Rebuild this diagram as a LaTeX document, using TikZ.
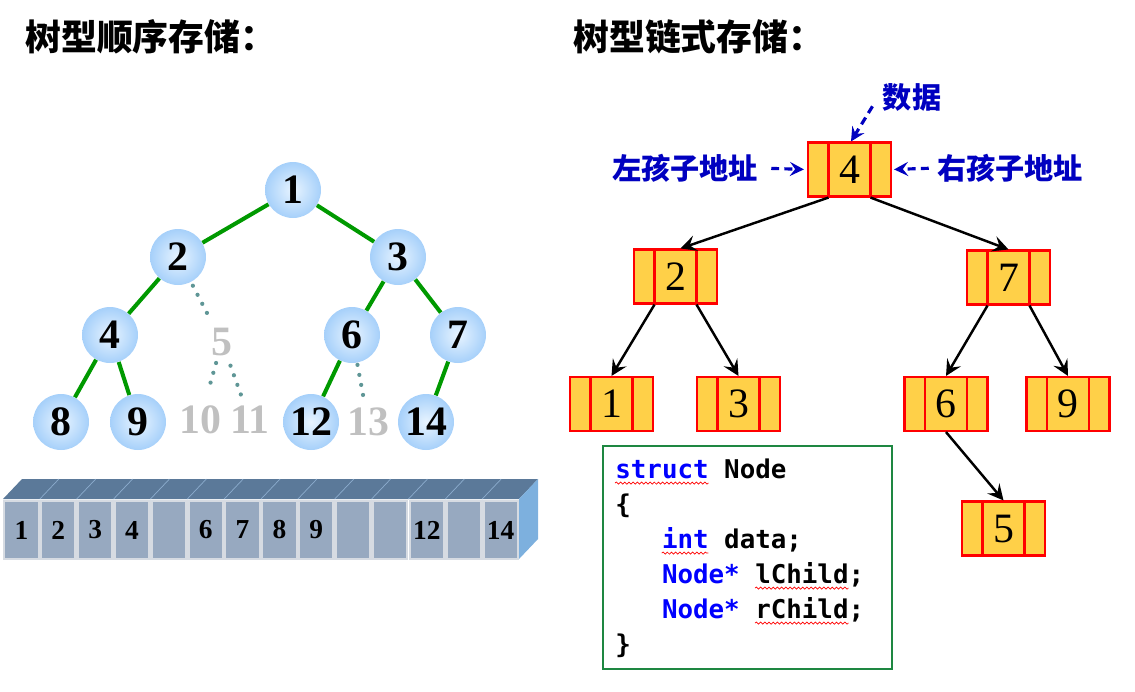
\documentclass[tikz,border=0pt]{standalone}
\usepackage{fontspec}
\setmainfont{Liberation Serif}
\newfontfamily\cjkfont{Noto Sans CJK SC}
\newfontfamily\codefont{DejaVu Sans Mono}
\usetikzlibrary{arrows.meta, positioning, calc, decorations.pathmorphing}

\definecolor{treegreen}{RGB}{0,153,0}
\definecolor{dotteal}{RGB}{95,150,150}
\definecolor{ballin}{RGB}{232,244,255}
\definecolor{ballout}{RGB}{166,208,250}
\definecolor{ghostgray}{RGB}{192,192,192}
\definecolor{labblue}{RGB}{0,0,192}
\definecolor{nodegold}{RGB}{255,208,72}
\definecolor{cellfill}{RGB}{151,169,192}
\definecolor{celledge}{RGB}{214,219,226}
\definecolor{arrtop}{RGB}{91,121,153}
\definecolor{arrsep}{RGB}{140,172,205}
\definecolor{arrside}{RGB}{125,176,222}
\definecolor{codegreen}{RGB}{30,135,65}
\definecolor{kwblue}{RGB}{0,0,255}

\begin{document}
\begin{tikzpicture}[x=0.02cm, y=-0.02cm,
  %% Titles and labels
  title/.style ={font=\cjkfont\bfseries\fontsize{20.4pt}{22pt}\selectfont, anchor=west, inner sep=0pt},
  blab/.style  ={font=\cjkfont\bfseries\fontsize{16.6pt}{18pt}\selectfont, text=labblue, inner sep=0pt},
  %% Sequential tree
  ball/.style  ={circle, minimum size=1.12cm, inner sep=0pt, inner color=ballin, outer color=ballout,
                 font=\bfseries\fontsize{23.8pt}{24pt}\selectfont},
  ghost/.style ={inner sep=0pt, text=ghostgray, font=\bfseries\fontsize{23.8pt}{24pt}\selectfont},
  gedge/.style ={treegreen, line width=2.3pt},
  dedge/.style ={dotteal, line width=2.4pt, line cap=round, dash pattern=on 0pt off 5.8pt},
  %% Array strip
  cell/.style  ={draw=celledge, line width=1.3pt, fill=cellfill, minimum width=0.69cm,
                 minimum height=1.154cm, inner sep=0pt, font=\bfseries\fontsize{15.6pt}{16pt}\selectfont},
  %% Linked tree
  lnode/.style ={draw=red, line width=1.2pt, fill=nodegold, minimum width=1.66cm, minimum height=1.08cm,
                 inner sep=0pt, font=\fontsize{23.8pt}{24pt}\selectfont,
                 path picture={\draw[red, line width=1.2pt]
                   ([xshift=-0.42cm]path picture bounding box.north) -- ([xshift=-0.42cm]path picture bounding box.south)
                   ([xshift=0.42cm]path picture bounding box.north) -- ([xshift=0.42cm]path picture bounding box.south);}},
  arr/.style   ={-{Stealth[length=9pt, width=9pt, inset=3.5pt]}, line width=1.4pt},
  barr/.style  ={-{Stealth[length=8pt, width=8pt, inset=3pt]}, labblue, line width=1.8pt, dash pattern=on 4.5pt off 3pt},
  %% Code box
  codebox/.style ={draw=codegreen, line width=0.8pt, minimum width=5.78cm, minimum height=4.46cm},
  codeline/.style={anchor=base west, inner sep=0pt, font=\codefont\bfseries\fontsize{14.7pt}{19.8pt}\selectfont},
  spell/.style   ={red, line width=0.4pt, decorate, decoration={snake, amplitude=0.6pt, segment length=2.4pt}}
]
\useasboundingbox (0,0) rectangle (1135,691);

%% ── TITLES ───────────────────────────────────────────────────
\node[title] (ttlSeq)  at (25, 37)  {树型顺序存储：};
\node[title] (ttlLink) at (573, 37) {树型链式存储：};

%% ── SEQUENTIAL TREE ──────────────────────────────────────────
\node[ball] (c1)  at (293, 190) {1};
\node[ball] (c2)  at (178, 257) {2};
\node[ball] (c3)  at (398, 257) {3};
\node[ball] (c4)  at (110, 335) {4};
\node[ball] (c6)  at (352, 335) {6};
\node[ball] (c7)  at (458, 335) {7};
\node[ball] (c8)  at (61, 422)  {8};
\node[ball] (c9)  at (138, 422) {9};
\node[ball] (c12) at (311, 422) {12};
\node[ball] (c14) at (426, 422) {14};

\node[ghost] (g5)  at (222, 342) {5};
\node[ghost] (g10) at (200, 420) {10};
\node[ghost] (g11) at (250, 420) {11};
\node[ghost] (g13) at (368, 422) {13};

\draw[gedge] (c1) -- (c2);
\draw[gedge] (c1) -- (c3);
\draw[gedge] (c2) -- (c4);
\draw[gedge] (c3) -- (c6);
\draw[gedge] (c3) -- (c7);
\draw[gedge] (c4) -- (c8);
\draw[gedge] (c4) -- (c9);
\draw[gedge] (c6) -- (c12);
\draw[gedge] (c7) -- (c14);

%% missing children, dotted
\draw[dedge, shorten <=0.08cm, shorten >=0.19cm] (c2) -- (g5);
\draw[dedge, shorten <=0.14cm, shorten >=0.29cm] (g5) -- (g10);
\draw[dedge, shorten <=0.20cm, shorten >=0.13cm] (g5) -- (g11);
\draw[dedge, shorten <=0.04cm, shorten >=0.10cm] (c6) -- (g13);

%% ── ARRAY STRIP ──────────────────────────────────────────────
\coordinate (arrNW) at (3, 499);
\coordinate (arrSE) at (519, 559);
\fill[arrtop]  (arrNW) -- ++(19,-20) -- ($(arrSE |- arrNW)+(19,-20)$) -- (arrSE |- arrNW) -- cycle;
\fill[arrside] (arrSE |- arrNW) -- ++(19,-20) -- ++(0,60) -- (arrSE) -- cycle;
\foreach \i in {1,...,13}
  \draw[arrsep, line width=0.4pt] ($(arrNW)+(36.86*\i,0)$) -- ++(19,-20);

\foreach \v [count=\i from 0] in {1,2,3,4,{},6,7,8,9,{},{},12,{},14}
  \node[cell] (a\i) at ({21.43+36.86*\i}, 530) {\v};

%% ── LINKED TREE ──────────────────────────────────────────────
\node[lnode] (r4) at (849.5, 169.5) {4};
\node[lnode] (r2) at (675.5, 276.5) {2};
\node[lnode] (r7) at (1008.5, 277.5) {7};
\node[lnode] (r1) at (611.5, 404) {1};
\node[lnode] (r3) at (738.5, 404) {3};
\node[lnode] (r6) at (946, 404) {6};
\node[lnode] (r9) at (1068, 404) {9};
\node[lnode] (r5) at (1003.5, 528.5) {5};

\draw[arr] ([xshift=-0.42cm]r4.south) -- ([xshift=0.1cm]r2.north);
\draw[arr] ([xshift=0.42cm]r4.south)  -- (r7.north);
\draw[arr] ([xshift=-0.42cm]r2.south) -- (r1.north);
\draw[arr] ([xshift=0.42cm]r2.south)  -- (r3.north);
\draw[arr] ([xshift=-0.42cm]r7.south) -- (r6.north);
\draw[arr] ([xshift=0.42cm]r7.south)  -- (r9.north);
\draw[arr] (r6.south) -- (r5.north);

%% field labels
\node[blab] (lblData) at (912, 97)  {数据};
\node[blab] (lblL)    at (685, 168) {左孩子地址};
\node[blab] (lblR)    at (1010, 168) {右孩子地址};

\draw[barr] ([xshift=-0.2cm, yshift=0.1cm]lblData.south west) -- ([xshift=0.03cm]r4.north);
\draw[barr, shorten <=0.26cm, shorten >=0.06cm] (lblL.east) -- (r4.west);
\draw[barr, shorten <=0.16cm, shorten >=0.04cm] (lblR.west) -- (r4.east);

%% ── CODE BOX ─────────────────────────────────────────────────
\node[codebox] (code) at (747.5, 557.5) {};
\node[codeline] (src1) at (615, 478.5) {\textcolor{kwblue}{struct} Node};
\node[codeline] (src2) at (615, 513.5) {\{};
\node[codeline] (src3) at (615, 548.5) {\phantom{xxx}\textcolor{kwblue}{int} data;};
\node[codeline] (src4) at (615, 583.5) {\phantom{xxx}\textcolor{kwblue}{Node*} lChild;};
\node[codeline] (src5) at (615, 618.5) {\phantom{xxx}\textcolor{kwblue}{Node*} rChild;};
\node[codeline] (src6) at (615, 653.5) {\}};

%% spell-check waves
\draw[spell] ([yshift=-2.6pt]src1.base west) -- ++(53.1pt,0);
\draw[spell] ([xshift=26.6pt, yshift=-2.6pt]src3.base west) -- ++(26.6pt,0);
\draw[spell] ([xshift=79.7pt, yshift=-2.6pt]src4.base west) -- ++(53.1pt,0);
\draw[spell] ([xshift=79.7pt, yshift=-2.6pt]src5.base west) -- ++(53.1pt,0);

\end{tikzpicture}
\end{document}
